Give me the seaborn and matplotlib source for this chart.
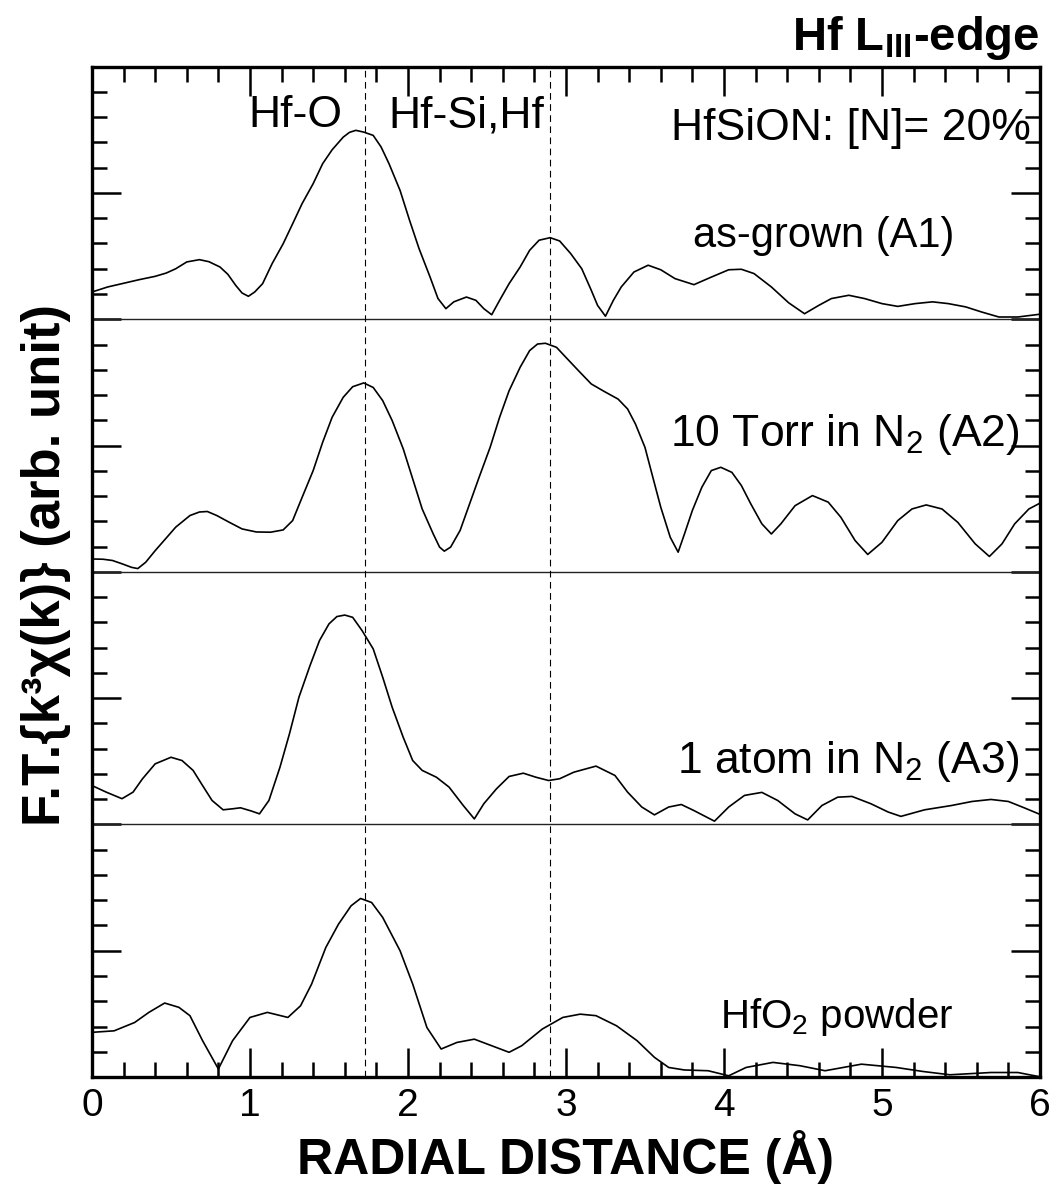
"""Hf L_III-edge EXAFS Fourier transforms, stacked by sample."""
import matplotlib
matplotlib.use("Agg")
import matplotlib.pyplot as plt
import matplotlib.ticker as mticker
import seaborn as sns
import pandas as pd

# radial distance (A) / FT magnitude (panel units)
r_a1 = [0.00, 0.10, 0.19, 0.30, 0.40, 0.47, 0.53, 0.60, 0.68, 0.74,
        0.81, 0.86, 0.91, 0.95, 0.99, 1.03, 1.08, 1.14, 1.21, 1.27,
        1.33, 1.40, 1.46, 1.52, 1.59, 1.63, 1.67, 1.72, 1.78, 1.83,
        1.88, 1.95, 2.01, 2.07, 2.14, 2.19, 2.24, 2.29, 2.37, 2.43,
        2.48, 2.53, 2.58, 2.64, 2.71, 2.77, 2.83, 2.90, 2.96, 3.03,
        3.10, 3.16, 3.20, 3.25, 3.30, 3.35, 3.43, 3.52, 3.60, 3.69,
        3.81, 3.92, 4.03, 4.11, 4.19, 4.30, 4.41, 4.51, 4.60, 4.68,
        4.79, 4.89, 5.00, 5.10, 5.21, 5.32, 5.42, 5.53, 5.63, 5.74,
        5.86, 6.00]
ft_a1 = [0.108, 0.128, 0.141, 0.157, 0.170, 0.183, 0.200, 0.227, 0.236, 0.228,
         0.207, 0.178, 0.134, 0.104, 0.091, 0.108, 0.141, 0.220, 0.299, 0.378,
         0.458, 0.537, 0.616, 0.671, 0.721, 0.740, 0.748, 0.741, 0.728, 0.682,
         0.616, 0.510, 0.392, 0.280, 0.167, 0.082, 0.042, 0.069, 0.088, 0.075,
         0.042, 0.018, 0.075, 0.141, 0.207, 0.273, 0.313, 0.323, 0.310, 0.260,
         0.200, 0.115, 0.055, 0.012, 0.075, 0.128, 0.187, 0.214, 0.196, 0.161,
         0.137, 0.167, 0.196, 0.198, 0.181, 0.128, 0.065, 0.022, 0.055, 0.082,
         0.095, 0.082, 0.062, 0.051, 0.062, 0.069, 0.062, 0.049, 0.029, 0.009,
         0.009, 0.020]

r_a2 = [0.00, 0.07, 0.13, 0.19, 0.25, 0.29, 0.34, 0.40, 0.47, 0.53,
        0.62, 0.68, 0.73, 0.79, 0.87, 0.95, 1.04, 1.13, 1.21, 1.27,
        1.33, 1.40, 1.46, 1.52, 1.59, 1.65, 1.72, 1.78, 1.84, 1.90,
        1.97, 2.03, 2.09, 2.16, 2.20, 2.23, 2.27, 2.33, 2.39, 2.45,
        2.52, 2.58, 2.64, 2.71, 2.77, 2.82, 2.87, 2.94, 3.00, 3.08,
        3.16, 3.24, 3.33, 3.39, 3.44, 3.50, 3.55, 3.60, 3.66, 3.71,
        3.75, 3.80, 3.86, 3.92, 3.98, 4.05, 4.11, 4.17, 4.24, 4.30,
        4.36, 4.45, 4.56, 4.66, 4.74, 4.83, 4.91, 5.00, 5.10, 5.19,
        5.28, 5.38, 5.48, 5.59, 5.68, 5.76, 5.84, 5.93, 6.00]
ft_a2 = [0.051, 0.050, 0.045, 0.032, 0.018, 0.013, 0.038, 0.084, 0.134, 0.177,
         0.223, 0.237, 0.239, 0.223, 0.196, 0.170, 0.158, 0.157, 0.166, 0.203,
         0.295, 0.401, 0.513, 0.612, 0.691, 0.733, 0.748, 0.730, 0.678, 0.599,
         0.487, 0.368, 0.249, 0.150, 0.098, 0.082, 0.098, 0.164, 0.269, 0.374,
         0.493, 0.612, 0.717, 0.810, 0.876, 0.902, 0.905, 0.889, 0.849, 0.796,
         0.744, 0.715, 0.684, 0.645, 0.585, 0.493, 0.374, 0.256, 0.137, 0.078,
         0.150, 0.243, 0.335, 0.401, 0.414, 0.394, 0.342, 0.269, 0.190, 0.150,
         0.190, 0.262, 0.302, 0.276, 0.216, 0.124, 0.069, 0.117, 0.203, 0.249,
         0.265, 0.249, 0.196, 0.111, 0.061, 0.111, 0.190, 0.249, 0.272]

r_a3 = [0.00, 0.09, 0.19, 0.26, 0.32, 0.40, 0.50, 0.57, 0.64, 0.70,
        0.76, 0.83, 0.89, 0.94, 1.01, 1.06, 1.12, 1.19, 1.25, 1.31,
        1.38, 1.44, 1.50, 1.55, 1.60, 1.65, 1.71, 1.78, 1.84, 1.90,
        1.97, 2.03, 2.09, 2.18, 2.26, 2.35, 2.42, 2.48, 2.56, 2.64,
        2.73, 2.81, 2.89, 2.96, 3.05, 3.19, 3.31, 3.39, 3.48, 3.56,
        3.65, 3.73, 3.81, 3.94, 4.03, 4.13, 4.24, 4.34, 4.45, 4.53,
        4.62, 4.72, 4.81, 4.93, 5.04, 5.12, 5.27, 5.44, 5.57, 5.69,
        5.80, 5.90, 6.00]
ft_a3 = [0.154, 0.128, 0.102, 0.128, 0.181, 0.240, 0.266, 0.253, 0.214, 0.154,
         0.095, 0.058, 0.062, 0.066, 0.053, 0.042, 0.095, 0.227, 0.359, 0.504,
         0.629, 0.728, 0.794, 0.823, 0.829, 0.820, 0.767, 0.695, 0.583, 0.464,
         0.345, 0.253, 0.214, 0.187, 0.148, 0.075, 0.022, 0.082, 0.141, 0.190,
         0.203, 0.187, 0.174, 0.181, 0.207, 0.231, 0.194, 0.128, 0.069, 0.038,
         0.069, 0.079, 0.055, 0.013, 0.069, 0.115, 0.127, 0.095, 0.042, 0.018,
         0.075, 0.108, 0.111, 0.082, 0.049, 0.032, 0.058, 0.075, 0.091, 0.099,
         0.091, 0.066, 0.040]

r_hfo2 = [0.00, 0.14, 0.27, 0.36, 0.46, 0.55, 0.62, 0.70, 0.80, 0.89,
          1.00, 1.11, 1.24, 1.32, 1.39, 1.48, 1.56, 1.64, 1.70, 1.77,
          1.84, 1.95, 2.03, 2.12, 2.21, 2.31, 2.42, 2.53, 2.64, 2.72,
          2.85, 2.98, 3.09, 3.19, 3.32, 3.45, 3.56, 3.65, 3.75, 3.90,
          4.03, 4.14, 4.31, 4.48, 4.64, 4.87, 5.09, 5.26, 5.43, 5.69,
          5.86, 6.00]
ft_hfo2 = [0.177, 0.183, 0.216, 0.256, 0.293, 0.276, 0.243, 0.144, 0.032, 0.144,
           0.236, 0.256, 0.236, 0.282, 0.368, 0.513, 0.605, 0.678, 0.707, 0.691,
           0.632, 0.500, 0.368, 0.196, 0.111, 0.137, 0.150, 0.124, 0.098, 0.124,
           0.190, 0.236, 0.249, 0.243, 0.203, 0.144, 0.078, 0.038, 0.028, 0.025,
           0.005, 0.038, 0.058, 0.045, 0.025, 0.051, 0.038, 0.022, 0.009, 0.018,
           0.018, 0.001]

samples = ["as-grown (A1)", r"10 Torr in N$_2$ (A2)",
           r"1 atom in N$_2$ (A3)", r"HfO$_2$ powder"]
offsets = [3, 2, 1, 0]
bond_lines = [1.73, 2.90]          # Hf-O, Hf-Si/Hf shells
bond_labels = ["Hf-O", "Hf-Si,Hf"]

frames = []
for name, off, r, ft in zip(samples, offsets,
                            [r_a1, r_a2, r_a3, r_hfo2],
                            [ft_a1, ft_a2, ft_a3, ft_hfo2]):
    frames.append(pd.DataFrame({"r": r, "y": [v + off for v in ft], "sample": name}))
df = pd.concat(frames, ignore_index=True)

sns.set_theme(style="ticks")
plt.rcParams["font.family"] = ["Liberation Sans", "DejaVu Sans"]
plt.rcParams["mathtext.fontset"] = "custom"
plt.rcParams["mathtext.rm"] = "Liberation Sans"
plt.rcParams["mathtext.it"] = "Liberation Sans:italic"
plt.rcParams["mathtext.bf"] = "Liberation Sans:bold"
for key in ["text.color", "axes.labelcolor", "xtick.color", "ytick.color",
            "xtick.labelcolor", "ytick.labelcolor"]:
    plt.rcParams[key] = "black"

fig = plt.figure(figsize=(10.56, 11.95), dpi=100)
ax = fig.add_axes([0.0871, 0.0987, 0.8977, 0.8455])

sns.lineplot(data=df, x="r", y="y", units="sample", estimator=None,
             sort=False, color="black", linewidth=1.2, ax=ax, legend=False)

for off in offsets[:-1]:
    ax.axhline(off, color="#222222", linewidth=1.0, zorder=1)
for xb in bond_lines:
    ax.axvline(xb, color="black", linewidth=0.8, dashes=(6, 4), zorder=1)

ax.set_xlim(0, 6)
ax.set_ylim(0, 4)
ax.xaxis.set_major_locator(mticker.MultipleLocator(1))
ax.xaxis.set_minor_locator(mticker.MultipleLocator(0.2))
ax.yaxis.set_major_locator(mticker.MultipleLocator(0.5))
ax.yaxis.set_minor_locator(mticker.MultipleLocator(0.1))
ax.tick_params(which="both", direction="in", top=True, right=True,
               width=1.8, color="black")
ax.tick_params(which="major", length=21, labelsize=28, pad=8)
ax.tick_params(which="minor", length=11)
ax.set_yticklabels([])
for sp in ax.spines.values():
    sp.set_linewidth(2.4)
    sp.set_color("black")

ax.set_xlabel("RADIAL DISTANCE (Å)", fontsize=36, fontweight="bold", labelpad=4)
ax.set_ylabel("")
fig.text(0.044, 0.527, "F.T.{k³χ(k)} (arb. unit)", rotation=90,
         ha="center", va="center", fontsize=38, fontweight="bold")
fig.text(0.9848, 0.958, r"Hf L$_{\mathbf{III}}$-edge", ha="right",
         va="baseline", fontsize=34, fontweight="bold")

ax.text(1.29, 3.76, bond_labels[0], ha="center", va="baseline", fontsize=32)
ax.text(2.37, 3.76, bond_labels[1], ha="center", va="baseline", fontsize=32)
ax.text(5.94, 3.71, "HfSiON: [N]= 20%", ha="right", va="baseline", fontsize=32)
ax.text(5.46, 3.285, samples[0], ha="right", va="baseline", fontsize=30)
ax.text(5.87, 2.50, samples[1], ha="right", va="baseline", fontsize=32)
ax.text(5.87, 1.205, samples[2], ha="right", va="baseline", fontsize=32)
ax.text(5.45, 0.195, samples[3], ha="right", va="baseline", fontsize=29)

fig.savefig("out.png", dpi=100)
plt.close(fig)
